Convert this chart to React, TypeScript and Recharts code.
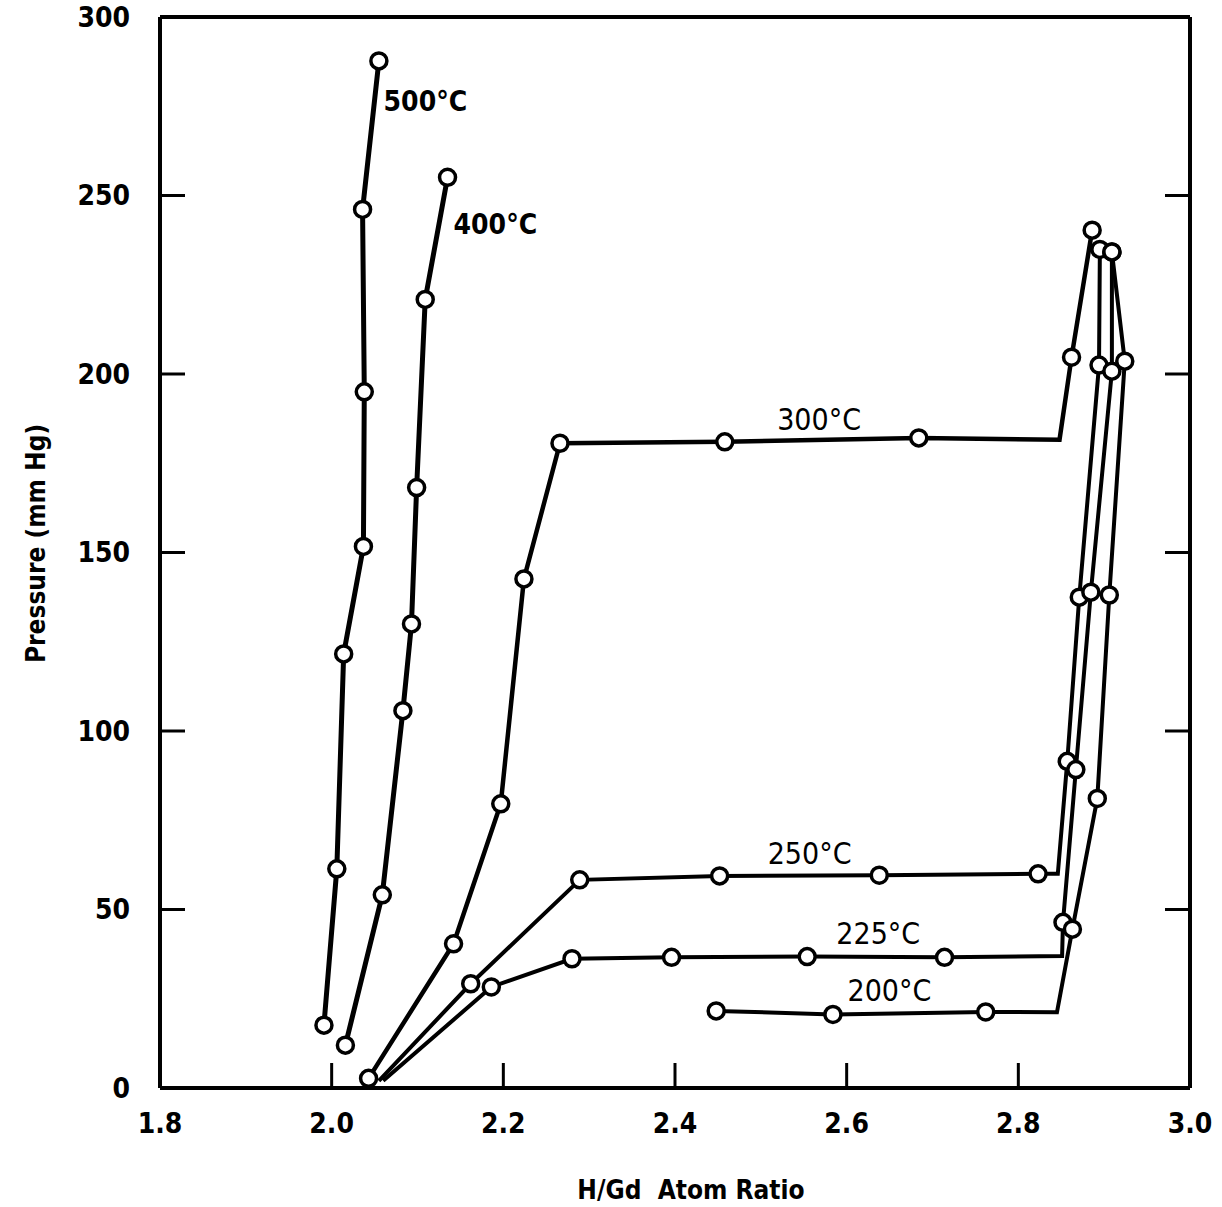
import { ScatterChart, Scatter, XAxis, YAxis, ReferenceDot } from "recharts";

// H/Gd ratio ticks and pressure ticks
const ratioTicks = [1.8, 2.0, 2.2, 2.4, 2.6, 2.8, 3.0];
const pressureTicks = [0, 50, 100, 150, 200, 250, 300];

// isotherms: H/Gd ratio and pressure (mm Hg); bends are line corners with no measured point
const ratio500 = [1.991, 2.006, 2.014, 2.037, 2.038, 2.036, 2.055];
const press500 = [17.6, 61.4, 121.6, 151.7, 195, 246.1, 287.7];

const ratio400 = [2.016, 2.059, 2.083, 2.093, 2.099, 2.109, 2.135];
const press400 = [12, 54.1, 105.7, 130, 168.2, 220.9, 255.1];

const ratio300 = [2.043, 2.142, 2.197, 2.224, 2.266, 2.458, 2.684, 2.848, 2.862, 2.886];
const press300 = [2.7, 40.4, 79.6, 142.6, 180.6, 181, 182.1, 181.6, 204.7, 240.3];
const bends300 = [7];

const ratio250 = [2.055, 2.162, 2.289, 2.452, 2.638, 2.823, 2.846, 2.857, 2.871, 2.894, 2.895];
const press250 = [2, 29.2, 58.3, 59.4, 59.6, 60, 60, 91.5, 137.5, 202.5, 234.9];
const bends250 = [0, 6];

const ratio225 = [2.06, 2.186, 2.28, 2.396, 2.554, 2.714, 2.851, 2.852, 2.867, 2.8845, 2.909, 2.909];
const press225 = [2, 28.3, 36.2, 36.6, 36.8, 36.6, 37, 46.4, 89.2, 138.9, 200.8, 234.2];
const bends225 = [0, 6];

const ratio200 = [2.448, 2.584, 2.762, 2.845, 2.863, 2.892, 2.906, 2.924, 2.909];
const press200 = [21.6, 20.6, 21.3, 21.2, 44.5, 81.1, 138.1, 203.6, 234.2];
const bends200 = [3];

// curve labels
const labelNames = ["500°C", "400°C", "300°C", "250°C", "225°C", "200°C"];
const labelRatio = [2.0605, 2.142, 2.519, 2.508, 2.588, 2.601];
const labelPress = [276.4, 242.1, 187.2, 65.8, 43.2, 27.3];
const labelBold = [true, true, false, false, false, false];

type Pt = { x: number; y: number; bend: boolean };

const toPoints = (xs: number[], ys: number[], bends: number[] = []): Pt[] =>
  xs.map((x, i) => ({ x, y: ys[i], bend: bends.includes(i) }));

const series = [
  { name: "500", data: toPoints(ratio500, press500), width: 5 },
  { name: "400", data: toPoints(ratio400, press400), width: 5 },
  { name: "300", data: toPoints(ratio300, press300, bends300), width: 4.5 },
  { name: "250", data: toPoints(ratio250, press250, bends250), width: 4 },
  { name: "225", data: toPoints(ratio225, press225, bends225), width: 4 },
  { name: "200", data: toPoints(ratio200, press200, bends200), width: 4 },
];

const FONT = "'DejaVu Sans Condensed', 'DejaVu Sans', sans-serif";

const HollowDot = (props: any) => {
  if (props.payload?.bend) return <g />;
  return <circle cx={props.cx} cy={props.cy} r={8} fill="#fff" stroke="#000" strokeWidth={3.5} />;
};

const NoDot = () => <g />;

const tickStyle = { fill: "#000", fontSize: 28, fontWeight: 700, fontFamily: FONT };
const axisLine = { stroke: "#000", strokeWidth: 4 };
const tickLine = { stroke: "#000", strokeWidth: 3 };

export default function App() {
  return (
    <div style={{ position: "absolute", left: 0, top: 0, width: 1222, height: 1207, background: "#fff" }}>
      <ScatterChart width={1222} height={1207} margin={{ top: 0, right: 0, bottom: 0, left: 0 }}>
        <XAxis
          xAxisId="b"
          type="number"
          dataKey="x"
          domain={[1.8, 3.0]}
          ticks={ratioTicks}
          allowDataOverflow
          height={119}
          tickSize={-25}
          tickMargin={50}
          axisLine={axisLine}
          tickLine={tickLine}
          tick={tickStyle}
          tickFormatter={(v: number) => v.toFixed(1)}
          label={{
            content: ({ viewBox }: any) => (
              <text
                x={viewBox.x + viewBox.width / 2 + 16}
                y={viewBox.y + viewBox.height - 8}
                textAnchor="middle"
                fill="#000"
                fontSize={26}
                fontWeight={700}
                fontFamily={FONT}
                style={{ whiteSpace: "pre" }}
              >
                {"H/Gd\u00a0\u00a0Atom Ratio"}
              </text>
            ),
          }}
        />
        <XAxis
          xAxisId="t"
          orientation="top"
          type="number"
          domain={[1.8, 3.0]}
          ticks={ratioTicks}
          allowDataOverflow
          height={17}
          tickSize={-25}
          axisLine={axisLine}
          tickLine={tickLine}
          tickFormatter={() => ""}
        />
        <YAxis
          yAxisId="l"
          type="number"
          dataKey="y"
          domain={[0, 300]}
          ticks={pressureTicks}
          allowDataOverflow
          width={160}
          tickSize={-25}
          tickMargin={55}
          axisLine={axisLine}
          tickLine={tickLine}
          tick={tickStyle}
          label={{
            content: ({ viewBox }: any) => {
              const cx = viewBox.x + 36;
              const cy = viewBox.y + viewBox.height / 2 - 9;
              return (
                <text
                  x={cx}
                  y={cy}
                  transform={`rotate(-90, ${cx}, ${cy})`}
                  textAnchor="middle"
                  dominantBaseline="central"
                  fill="#000"
                  fontSize={26}
                  fontWeight={700}
                  fontFamily={FONT}
                >
                  Pressure (mm Hg)
                </text>
              );
            },
          }}
        />
        <YAxis
          yAxisId="r"
          orientation="right"
          type="number"
          domain={[0, 300]}
          ticks={pressureTicks}
          allowDataOverflow
          width={32}
          tickSize={-25}
          axisLine={axisLine}
          tickLine={tickLine}
          tickFormatter={() => ""}
        />

        {series.map((s) => (
          <Scatter
            key={`line-${s.name}`}
            xAxisId="b"
            yAxisId="l"
            data={s.data}
            line={{ stroke: "#000", strokeWidth: s.width }}
            lineType="joint"
            shape={NoDot}
            isAnimationActive={false}
          />
        ))}
        {series.map((s) => (
          <Scatter
            key={`pts-${s.name}`}
            xAxisId="b"
            yAxisId="l"
            data={s.data}
            shape={HollowDot}
            isAnimationActive={false}
          />
        ))}

        {labelNames.map((name, i) => (
          <ReferenceDot
            key={name}
            xAxisId="b"
            yAxisId="l"
            x={labelRatio[i]}
            y={labelPress[i]}
            r={0}
            fill="none"
            stroke="none"
            label={{
              value: name,
              position: "right",
              offset: 0,
              fill: "#000",
              fontSize: labelBold[i] ? 28 : 30,
              fontWeight: labelBold[i] ? 700 : 400,
              fontFamily: FONT,
            }}
          />
        ))}
      </ScatterChart>
    </div>
  );
}
